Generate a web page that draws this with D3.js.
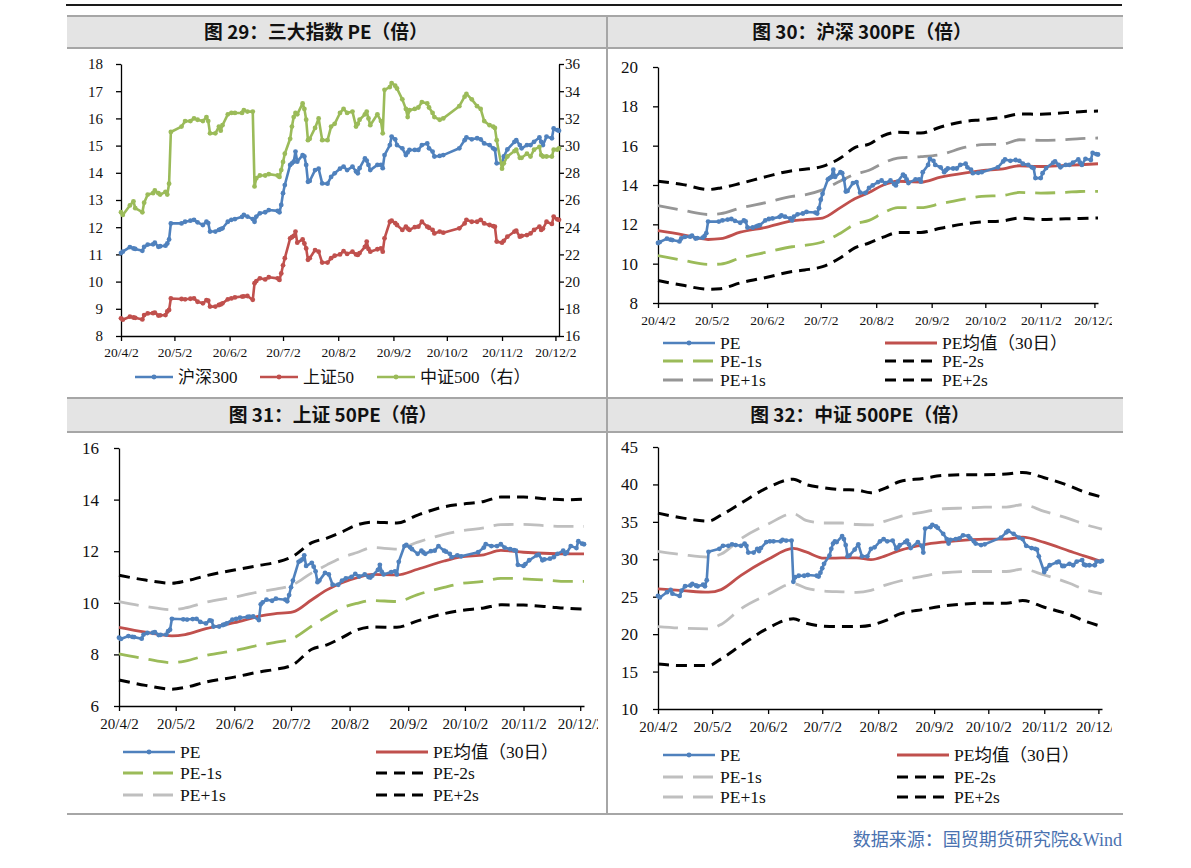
<!DOCTYPE html>
<html>
<head>
<meta charset="utf-8">
<script src="https://cdn.jsdelivr.net/npm/d3@7"></script>
<style>
body { margin: 0; background: #fff; }
</style>
</head>
<body>
<svg id="chart" width="1191" height="868"></svg>
<script>
// ---- data ----
const monthTicks = ['20/4/2','20/5/2','20/6/2','20/7/2','20/8/2','20/9/2','20/10/2','20/11/2','20/12/2'];
const axisEnd = '12-04';

const peDates = [
  '04-02','04-03','04-07','04-09','04-10','04-14','04-15','04-17','04-20','04-21','04-23','04-24','04-27','04-28','04-29','04-30',
  '05-06','05-08','05-11','05-13','05-15','05-18','05-20','05-21','05-22','05-25','05-27','05-28','05-29',
  '06-01','06-03','06-05','06-09','06-10','06-12','06-15','06-16','06-17','06-19','06-22','06-24','06-29','06-30',
  '07-01','07-02','07-03','07-06','07-07','07-08','07-09','07-10','07-13','07-14','07-15','07-16','07-17','07-20','07-22','07-24','07-27','07-29','07-31',
  '08-03','08-05','08-07','08-10','08-12','08-13','08-14','08-17','08-18','08-19','08-20','08-24','08-26','08-27','08-28','08-31',
  '09-01','09-03','09-04','09-07','09-09','09-10','09-11','09-14','09-16','09-18','09-21','09-22','09-24','09-25','09-28','09-30',
  '10-09','10-12','10-13','10-16','10-19','10-21','10-23','10-26','10-28','10-29','10-30',
  '11-02','11-03','11-05','11-09','11-10','11-12','11-13','11-16','11-18','11-20','11-23','11-24','11-25','11-27','11-30',
  '12-01','12-03','12-04'
];

const hs300 = [
  11.05,11.1,11.27,11.22,11.2,11.13,11.28,11.36,11.37,11.43,11.28,11.3,11.32,11.4,11.55,12.14,
  12.14,12.2,12.24,12.27,12.18,12.08,12.2,12.15,11.84,11.84,11.9,11.93,11.96,
  12.2,12.27,12.3,12.38,12.45,12.39,12.3,12.2,12.39,12.51,12.55,12.63,12.6,12.55,
  12.82,13.25,13.55,14.29,14.35,14.41,14.78,14.41,14.65,14.6,14.29,13.67,13.7,14.1,14.15,13.61,13.6,13.85,13.98,
  14.15,14.23,14.1,14.23,14.05,13.98,14.17,14.53,14.45,14.29,14.1,14.29,14.29,14.17,14.65,15.02,
  15.33,15.23,15.02,14.9,14.65,14.75,14.84,14.84,14.84,15.02,15.08,14.9,14.78,14.6,14.62,14.65,
  14.9,15.2,15.3,15.23,15.27,15.23,15.08,15.02,14.9,14.86,14.35,
  14.35,14.6,14.86,15.14,15.2,15.02,14.9,15.02,15.02,15.14,15.3,15.14,15.02,15.33,15.27,
  15.63,15.57,15.55
];

const sz50 = [
  8.65,8.6,8.71,8.68,8.67,8.61,8.77,8.83,8.84,8.86,8.75,8.76,8.77,8.9,8.96,9.38,
  9.36,9.35,9.37,9.38,9.26,9.2,9.32,9.3,9.08,9.08,9.14,9.16,9.2,
  9.35,9.38,9.42,9.45,9.46,9.47,9.33,9.94,10.02,10.12,10.08,10.16,10.12,10.06,
  10.3,10.6,10.86,11.59,11.63,11.68,11.84,11.43,11.55,11.4,11.22,10.8,10.86,11.16,11.1,10.7,10.7,10.86,10.95,
  11.0,11.12,11.02,11.1,11.0,10.98,11.05,11.28,11.47,11.2,11.1,11.19,11.22,11.1,11.59,12.2,
  12.24,12.15,12.08,11.9,12.02,11.95,11.9,12.0,12.02,12.2,12.02,11.98,11.9,11.77,11.84,11.8,
  11.96,12.14,12.27,12.2,12.2,12.27,12.14,12.08,12.04,12.02,11.47,
  11.43,11.5,11.65,11.84,11.87,11.65,11.68,11.71,11.77,11.9,12.02,11.9,11.95,12.2,12.12,
  12.39,12.29,12.27
];

const zz500 = [
  25.1,24.9,25.6,25.9,25.4,25.1,25.8,26.4,26.5,26.7,26.5,26.4,26.6,26.4,27.2,31.0,
  31.4,31.8,31.8,32.0,31.9,31.8,32.1,31.8,30.9,30.9,31.4,31.1,31.5,
  32.3,32.4,32.4,32.4,32.6,32.5,32.5,27.0,27.6,27.8,27.8,27.9,27.8,27.7,
  28.2,28.8,29.4,30.5,31.4,32.1,32.4,32.3,33.1,32.7,31.9,30.4,30.5,31.3,32.0,30.4,30.4,31.4,31.6,
  32.4,32.7,32.4,32.5,31.4,31.6,31.9,32.3,32.5,32.0,31.5,32.3,31.8,30.9,34.1,34.3,
  34.6,34.4,34.2,33.4,32.7,32.1,32.6,32.7,32.8,33.2,33.1,32.8,32.4,32.1,31.9,32.0,
  32.9,33.6,33.8,33.4,32.9,32.7,31.8,31.5,31.4,31.3,30.4,
  28.3,28.7,29.2,29.6,29.7,29.1,29.1,29.4,29.2,29.7,29.9,29.3,29.2,29.2,29.2,
  29.7,29.7,29.8
];

const bandDates = ['04-02','04-16','04-30','05-07','05-18','06-02','06-16','06-23','07-03','07-13','07-21','07-29',
                   '08-06','08-14','08-27','09-07','09-21','09-30','10-12','10-21','11-02','11-16','11-24','12-04'];

const hs300Mean = [11.68,11.47,11.23,11.27,11.6,11.86,12.17,12.24,12.32,12.85,13.3,13.62,14.0,14.19,14.15,14.4,14.62,14.73,14.82,14.98,14.94,15.0,15.03,15.08];
const hs300P2 = [14.19,14.02,13.77,13.85,14.08,14.44,14.73,14.8,14.95,15.37,15.9,16.08,16.51,16.68,16.64,16.95,17.24,17.32,17.45,17.61,17.6,17.68,17.73,17.76];
const hs300P1 = [12.95,12.71,12.5,12.54,12.83,13.12,13.42,13.5,13.75,14.2,14.55,14.75,15.12,15.37,15.44,15.55,15.92,16.05,16.08,16.3,16.27,16.31,16.36,16.39];
const hs300M1 = [10.41,10.17,9.96,9.98,10.29,10.59,10.86,10.93,11.1,11.55,12.0,12.2,12.58,12.85,12.85,13.05,13.3,13.42,13.47,13.62,13.59,13.63,13.67,13.68];
const hs300M2 = [9.14,8.9,8.7,8.73,9.02,9.31,9.6,9.68,9.85,10.3,10.8,11.05,11.35,11.58,11.59,11.8,12.03,12.12,12.18,12.32,12.25,12.28,12.3,12.32];

const sz50Mean = [9.05,8.86,8.72,8.77,9.0,9.23,9.49,9.57,9.65,10.12,10.5,10.78,10.97,11.1,11.08,11.3,11.62,11.78,11.86,12.03,11.96,11.91,11.9,11.9];
const sz50P2 = [11.07,10.88,10.76,10.84,11.05,11.27,11.46,11.55,11.8,12.33,12.51,12.75,13.02,13.13,13.09,13.4,13.72,13.82,13.93,14.1,14.1,14.02,13.99,14.02];
const sz50P1 = [10.05,9.86,9.73,9.8,10.02,10.22,10.44,10.52,10.7,11.16,11.47,11.75,11.95,12.14,12.08,12.35,12.65,12.79,12.9,13.03,13.04,12.98,12.96,12.96];
const sz50M1 = [8.02,7.83,7.68,7.74,7.96,8.15,8.37,8.46,8.62,9.1,9.47,9.8,9.98,10.09,10.05,10.32,10.6,10.75,10.83,10.95,10.93,10.87,10.83,10.83];
const sz50M2 = [7.01,6.8,6.65,6.72,6.93,7.12,7.33,7.41,7.6,8.2,8.37,8.65,8.95,9.06,9.05,9.3,9.58,9.7,9.8,9.92,9.91,9.84,9.79,9.76];

const zz500Mean = [26.05,25.8,25.6,25.95,27.85,30.0,31.45,30.98,30.15,30.18,30.2,29.95,30.45,31.2,31.94,32.3,32.6,32.7,32.7,32.95,32.25,31.1,30.45,29.7];
const zz500P2 = [36.17,35.5,35.1,35.9,37.5,39.6,40.7,39.98,39.55,39.3,39.25,38.9,39.5,40.4,40.8,41.2,41.3,41.3,41.39,41.6,40.9,39.8,39.0,38.31];
const zz500P1 = [31.05,30.6,30.3,30.7,32.75,34.7,36.1,35.2,34.85,34.85,34.65,34.61,35.1,35.7,36.3,36.75,36.86,36.98,36.98,37.29,36.4,35.4,34.7,34.03];
const zz500M1 = [21.01,20.79,20.7,21.3,23.4,25.3,26.75,26.15,25.75,25.65,25.58,25.85,26.55,27.1,27.75,28.2,28.37,28.37,28.37,28.68,27.9,26.8,26.0,25.38];
const zz500M2 = [16.02,15.8,15.8,16.7,18.5,20.8,22.05,21.46,21.07,21.01,21.01,21.2,21.8,22.7,23.3,23.75,24.07,24.14,24.14,24.49,23.6,22.6,21.8,21.01];

const yTicks29 = [8,9,10,11,12,13,14,15,16,17,18];
const yTicks29R = [16,18,20,22,24,26,28,30,32,34,36];
const yTicks30 = [8,10,12,14,16,18,20];
const yTicks31 = [6,8,10,12,14,16];
const yTicks32 = [10,15,20,25,30,35,40,45];

// ---- helpers ----
const SERIF = '"Liberation Serif","Times New Roman","Noto Sans CJK SC",serif';
const SANS = '"Noto Sans CJK SC","Noto Sans",sans-serif';
const BLUE = '#4F81BD', RED = '#C0504D', GREEN = '#9BBB59', BLACK = '#000';
const LONG = '20,10', SHORT = '11,7';

const parseDay = d3.timeParse('%Y-%m-%d');
const day = s => parseDay('2020-' + s);
const parseTick = d3.timeParse('%y/%m/%d');
let clipId = 0;

const svg = d3.select('#chart');

function xAxis(g, x, yPos, fs, pad, clipX) {
    let ax = g.append('g')
        .attr('transform', 'translate(0,' + yPos + ')')
        .call(d3.axisBottom(x)
            .tickValues(monthTicks.map(parseTick))
            .tickFormat((d, i) => monthTicks[i])
            .tickSize(5).tickSizeOuter(0).tickPadding(pad));
    ax.attr('font-family', SERIF).attr('font-size', fs);
    ax.select('.domain').attr('stroke', BLACK).attr('stroke-width', 1.3);
    ax.selectAll('.tick line').attr('stroke', BLACK).attr('stroke-width', 1.3);
    ax.selectAll('.tick text').attr('fill', '#111');
    if (clipX) {
        let id = 'clipx' + (clipId++);
        ax.append('clipPath').attr('id', id)
          .append('rect').attr('x', 0).attr('y', -10).attr('width', clipX).attr('height', 50);
        ax.attr('clip-path', 'url(#' + id + ')');
    }
}

function yAxis(g, y, xPos, ticks, fs, pad, right) {
    let gen = right ? d3.axisRight(y) : d3.axisLeft(y);
    let ax = g.append('g')
        .attr('transform', 'translate(' + xPos + ',0)')
        .call(gen.tickValues(ticks).tickSize(5).tickSizeOuter(0).tickPadding(pad));
    ax.attr('font-family', SERIF).attr('font-size', fs);
    ax.select('.domain').attr('stroke', BLACK).attr('stroke-width', 1.3);
    ax.selectAll('.tick line').attr('stroke', BLACK).attr('stroke-width', 1.3);
    ax.selectAll('.tick text').attr('fill', '#111');
}

function series(dates, vals) {
    return dates.map((d, i) => ({ t: day(d), v: vals[i] }));
}

function drawLine(g, x, y, data, color, width, dash, smooth) {
    var lineGen = d3.line()
        .x(d => x(d.t))
        .y(d => y(d.v))
        .curve(smooth ? d3.curveMonotoneX : d3.curveLinear);
    g.append('path')
        .attr('d', lineGen(data))
        .style('fill', 'none')
        .style('stroke', color)
        .style('stroke-width', width + 'px')
        .style('stroke-linejoin', 'round')
        .attr('stroke-dasharray', dash || null);
}

function drawMarkers(g, x, y, data, color) {
    g.append('g').selectAll('circle')
        .data(data).join('circle')
        .attr('cx', d => x(d.t))
        .attr('cy', d => y(d.v))
        .attr('r', 2.4)
        .style('fill', color);
}

function legendItem(g, x1, x2, yy, color, width, dash, marker, label, fs) {
    g.append('line')
        .attr('x1', x1).attr('x2', x2).attr('y1', yy).attr('y2', yy)
        .style('stroke', color).style('stroke-width', width + 'px')
        .attr('stroke-dasharray', dash || null);
    if (marker) {
        g.append('circle').attr('cx', (x1 + x2) / 2).attr('cy', yy).attr('r', 2.4).style('fill', color);
    }
    g.append('text')
        .attr('x', x2 + 5).attr('y', yy).attr('dy', '0.35em')
        .style('font-family', SERIF).style('font-size', fs + 'px')
        .style('fill', '#111')
        .text(label);
}

function title(txt, cx, by) {
    svg.append('text')
        .attr('x', cx).attr('y', by)
        .attr('text-anchor', 'middle')
        .style('font-family', SANS).style('font-weight', 'bold')
        .style('font-size', '18.8px').style('fill', '#111')
        .text(txt);
}

// ---- frame ----
function drawFrame() {
    svg.append('line').attr('x1', 66).attr('x2', 1122).attr('y1', 5).attr('y2', 5)
        .style('stroke', '#1a1a1a').style('stroke-width', '2px');
    [[16, 48], [398, 432]].forEach(function(h) {
        svg.append('rect').attr('x', 67).attr('y', h[0]).attr('width', 1056).attr('height', h[1] - h[0])
            .style('fill', '#e4e4e4');
        svg.append('line').attr('x1', 67).attr('x2', 1123).attr('y1', h[0]).attr('y2', h[0])
            .style('stroke', '#a6a6a6').style('stroke-width', '2px');
        svg.append('line').attr('x1', 67).attr('x2', 1123).attr('y1', h[1]).attr('y2', h[1])
            .style('stroke', '#a6a6a6').style('stroke-width', '2px');
    });
    svg.append('line').attr('x1', 607).attr('x2', 607).attr('y1', 16).attr('y2', 815)
        .style('stroke', '#a6a6a6').style('stroke-width', '2px');
    svg.append('line').attr('x1', 67).attr('x2', 1123).attr('y1', 814).attr('y2', 814)
        .style('stroke', '#a6a6a6').style('stroke-width', '2px');

    title('图 29：三大指数 PE（倍）', 316, 39);
    title('图 30：沪深 300PE（倍）', 862, 39);
    title('图 31：上证 50PE（倍）', 333, 422);
    title('图 32：中证 500PE（倍）', 860, 422);

    svg.append('text')
        .attr('x', 1122).attr('y', 846)
        .attr('text-anchor', 'end')
        .style('font-family', SERIF).style('font-size', '18px')
        .style('fill', '#4a72b0')
        .text('数据来源：国贸期货研究院&Wind');
}

// ---- chart 29: three indexes ----
function drawChart29() {
    let g = svg.append('g');
    var x = d3.scaleTime().domain([day('04-02'), day(axisEnd)]).range([121, 559]);
    var yL = d3.scaleLinear().domain([8, 18]).range([336, 64]);
    var yR = d3.scaleLinear().domain([16, 36]).range([336, 64]);

    xAxis(g, x, 336, 13.5, 6.5);
    yAxis(g, yL, 121, yTicks29, 15, 13, false);
    yAxis(g, yR, 559, yTicks29R, 15, 1, true);

    let a = series(peDates, hs300), b = series(peDates, sz50), c = series(peDates, zz500);
    drawLine(g, x, yL, a, BLUE, 2.6);
    drawMarkers(g, x, yL, a, BLUE);
    drawLine(g, x, yL, b, RED, 2.6);
    drawMarkers(g, x, yL, b, RED);
    drawLine(g, x, yR, c, GREEN, 2.6);
    drawMarkers(g, x, yR, c, GREEN);

    legendItem(g, 135, 173, 377, BLUE, 2.6, null, true, '沪深300', 17);
    legendItem(g, 260, 298, 377, RED, 2.6, null, true, '上证50', 17);
    legendItem(g, 377, 415, 377, GREEN, 2.6, null, true, '中证500（右）', 17);
}

// ---- charts 30-32: PE with mean and bands ----
function drawBandChart(cfg) {
    let g = svg.append('g');
    var x = d3.scaleTime().domain([day('04-02'), day(axisEnd)]).range([cfg.x0, cfg.x1]);
    var y = d3.scaleLinear().domain([cfg.ticks[0], cfg.ticks[cfg.ticks.length - 1]]).range([cfg.yb, cfg.yt]);

    xAxis(g, x, cfg.yb, cfg.xfs, cfg.xpad, cfg.clipX);
    yAxis(g, y, cfg.x0, cfg.ticks, 17, 15, false);

    drawLine(g, x, y, series(bandDates, cfg.p2), BLACK, 3, SHORT, true);
    drawLine(g, x, y, series(bandDates, cfg.m2), BLACK, 3, SHORT, true);
    drawLine(g, x, y, series(bandDates, cfg.p1), cfg.p1Color, 2.8, LONG, true);
    drawLine(g, x, y, series(bandDates, cfg.m1), cfg.m1Color, 2.8, LONG, true);
    drawLine(g, x, y, series(bandDates, cfg.mean), RED, 2.8, null, true);
    let pe = series(peDates, cfg.pe);
    drawLine(g, x, y, pe, BLUE, 2.6);
    drawMarkers(g, x, y, pe, BLUE);

    let L = cfg.leg;
    legendItem(g, L.c1, L.c1 + 52, L.rows[0], BLUE, 2.6, null, true, 'PE', 17.5);
    legendItem(g, L.c1, L.c1 + 52, L.rows[1], cfg.m1Color, 2.8, LONG, false, 'PE-1s', 17.5);
    legendItem(g, L.c1, L.c1 + 52, L.rows[2], cfg.p1Color, 2.8, LONG, false, 'PE+1s', 17.5);
    legendItem(g, L.c2, L.c2 + 52, L.rows[0], RED, 2.8, null, false, 'PE均值（30日）', 17.5);
    legendItem(g, L.c2, L.c2 + 52, L.rows[1], BLACK, 3, SHORT, false, 'PE-2s', 17.5);
    legendItem(g, L.c2, L.c2 + 52, L.rows[2], BLACK, 3, SHORT, false, 'PE+2s', 17.5);
}

drawFrame();
drawChart29();
drawBandChart({
    x0: 658, x1: 1098, yb: 303, yt: 67, ticks: yTicks30, xfs: 13.5, xpad: 7.5, clipX: 1112,
    pe: hs300, mean: hs300Mean, p1: hs300P1, p2: hs300P2, m1: hs300M1, m2: hs300M2,
    p1Color: '#969696', m1Color: GREEN,
    leg: { c1: 663, c2: 885, rows: [343, 361, 380] }
});
drawBandChart({
    x0: 119, x1: 584, yb: 706, yt: 448, ticks: yTicks31, xfs: 15, xpad: 7.5, clipX: 598,
    pe: sz50, mean: sz50Mean, p1: sz50P1, p2: sz50P2, m1: sz50M1, m2: sz50M2,
    p1Color: '#BFBFBF', m1Color: GREEN,
    leg: { c1: 123, c2: 376, rows: [752, 773, 795] }
});
drawBandChart({
    x0: 658, x1: 1102, yb: 709, yt: 447, ticks: yTicks32, xfs: 15, xpad: 7.5, clipX: 1112,
    pe: zz500, mean: zz500Mean, p1: zz500P1, p2: zz500P2, m1: zz500M1, m2: zz500M2,
    p1Color: '#BFBFBF', m1Color: '#BFBFBF',
    leg: { c1: 663, c2: 897, rows: [755, 777, 797] }
});
</script>
</body>
</html>
